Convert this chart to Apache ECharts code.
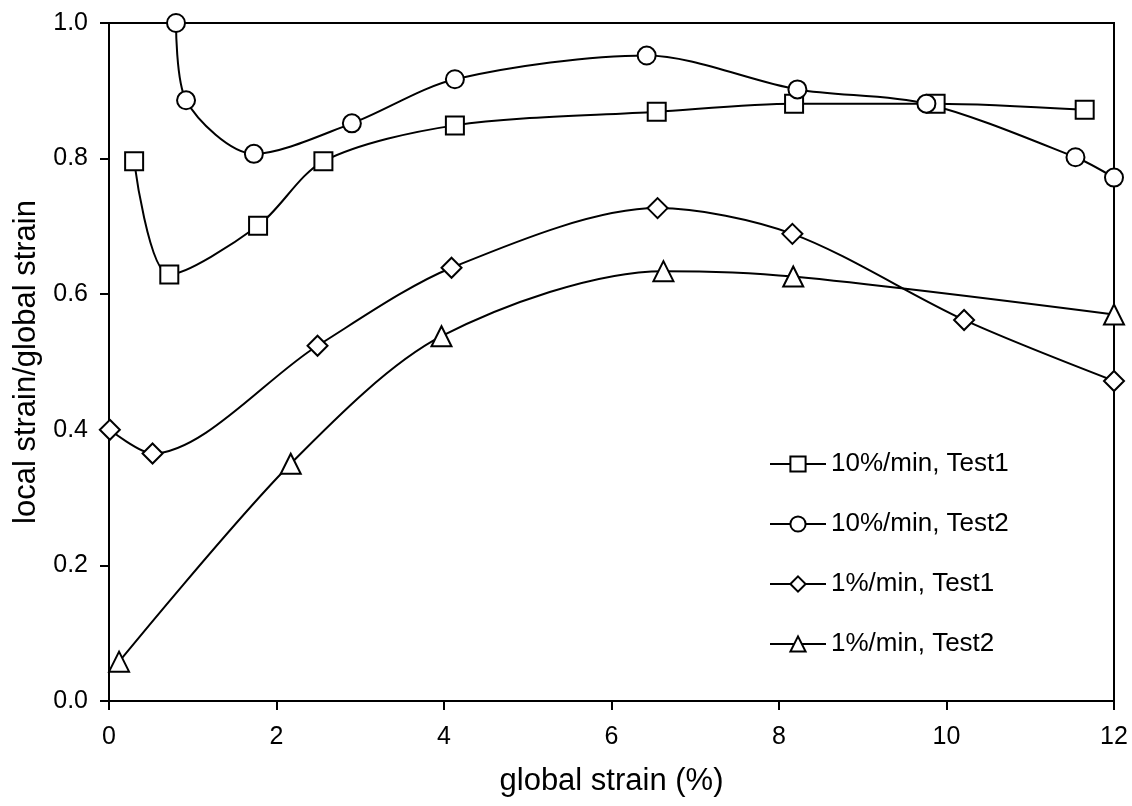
<!DOCTYPE html>
<html>
<head>
<meta charset="utf-8">
<script src="https://cdn.jsdelivr.net/npm/echarts@6/dist/echarts.min.js"></script>
<style>
html,body{margin:0;padding:0;background:#fff;}
#chart{width:1132px;height:806px;}
</style>
</head>
<body>
<div id="chart"></div>
<script>
var seriesNames = ['10%/min, Test1', '10%/min, Test2', '1%/min, Test1', '1%/min, Test2'];
var fast1 = [[0.30,0.796],[0.72,0.629],[1.78,0.701],[2.56,0.796],[4.13,0.849],[6.54,0.869],[8.18,0.881],[9.87,0.881],[11.65,0.872]];
var fast2 = [[0.80,1.0],[0.92,0.886],[1.73,0.807],[2.90,0.852],[4.13,0.917],[6.42,0.952],[8.22,0.902],[9.76,0.881],[11.54,0.802],[12.0,0.772]];
var slow1 = [[0.01,0.400],[0.52,0.365],[2.49,0.524],[4.09,0.639],[6.55,0.727],[8.16,0.689],[10.21,0.562],[12.0,0.472]];
var slow2 = [[0.12,0.058],[2.17,0.350],[3.97,0.538],[6.62,0.634],[8.17,0.626],[12.0,0.570]];
var symbols = ['rect','circle','diamond','triangle'];
var symbolSizes = [18,18,20,20];
var xTitle = 'global strain (%)';
var yTitle = 'local strain/global strain';

var FONT = '"Liberation Sans", Arial, sans-serif';
var allData = [fast1, fast2, slow1, slow2];

var series = allData.map(function(d, i){
  return {
    name: seriesNames[i],
    type: 'line',
    data: d,
    smooth: 0.3,
    clip: false,
    symbol: symbols[i],
    symbolSize: symbolSizes[i],
    showAllSymbol: true,
    lineStyle: {color: '#000', width: 2},
    itemStyle: {color: '#fff', borderColor: '#000', borderWidth: 2},
    emphasis: {disabled: true},
    z: 3
  };
});

var chart = echarts.init(document.getElementById('chart'), null, {renderer: 'canvas'});
chart.setOption({
  animation: false,
  backgroundColor: '#fff',
  grid: {left: 109, right: 18, top: 23, bottom: 105, show: true, borderColor: '#000', borderWidth: 2, backgroundColor: 'transparent'},
  legend: {
    orient: 'vertical',
    left: 764, top: 446, padding: 5,
    itemWidth: 56, itemHeight: 19, itemGap: 34,
    textStyle: {fontFamily: FONT, fontSize: 26, color: '#000'},
    data: seriesNames
  },
  xAxis: {
    type: 'value', min: 0, max: 12, interval: 2,
    name: xTitle, nameLocation: 'middle', nameGap: 65,
    nameTextStyle: {fontFamily: FONT, fontSize: 31, color: '#000'},
    axisLine: {show: true, onZero: false, lineStyle: {color: '#000', width: 2}},
    axisTick: {show: true, inside: false, length: 9, lineStyle: {color: '#000', width: 2}},
    axisLabel: {fontFamily: FONT, fontSize: 25, color: '#000', margin: 24},
    splitLine: {show: false}
  },
  yAxis: {
    type: 'value', min: 0, max: 1, interval: 0.2,
    name: yTitle, nameLocation: 'middle', nameGap: 67,
    nameTextStyle: {fontFamily: FONT, fontSize: 31, color: '#000'},
    axisLine: {show: true, onZero: false, lineStyle: {color: '#000', width: 2}},
    axisTick: {show: true, inside: false, length: 9, lineStyle: {color: '#000', width: 2}},
    axisLabel: {fontFamily: FONT, fontSize: 25, color: '#000', margin: 21, formatter: function(v){return v.toFixed(1);}},
    splitLine: {show: false}
  },
  series: series
});
</script>
</body>
</html>
